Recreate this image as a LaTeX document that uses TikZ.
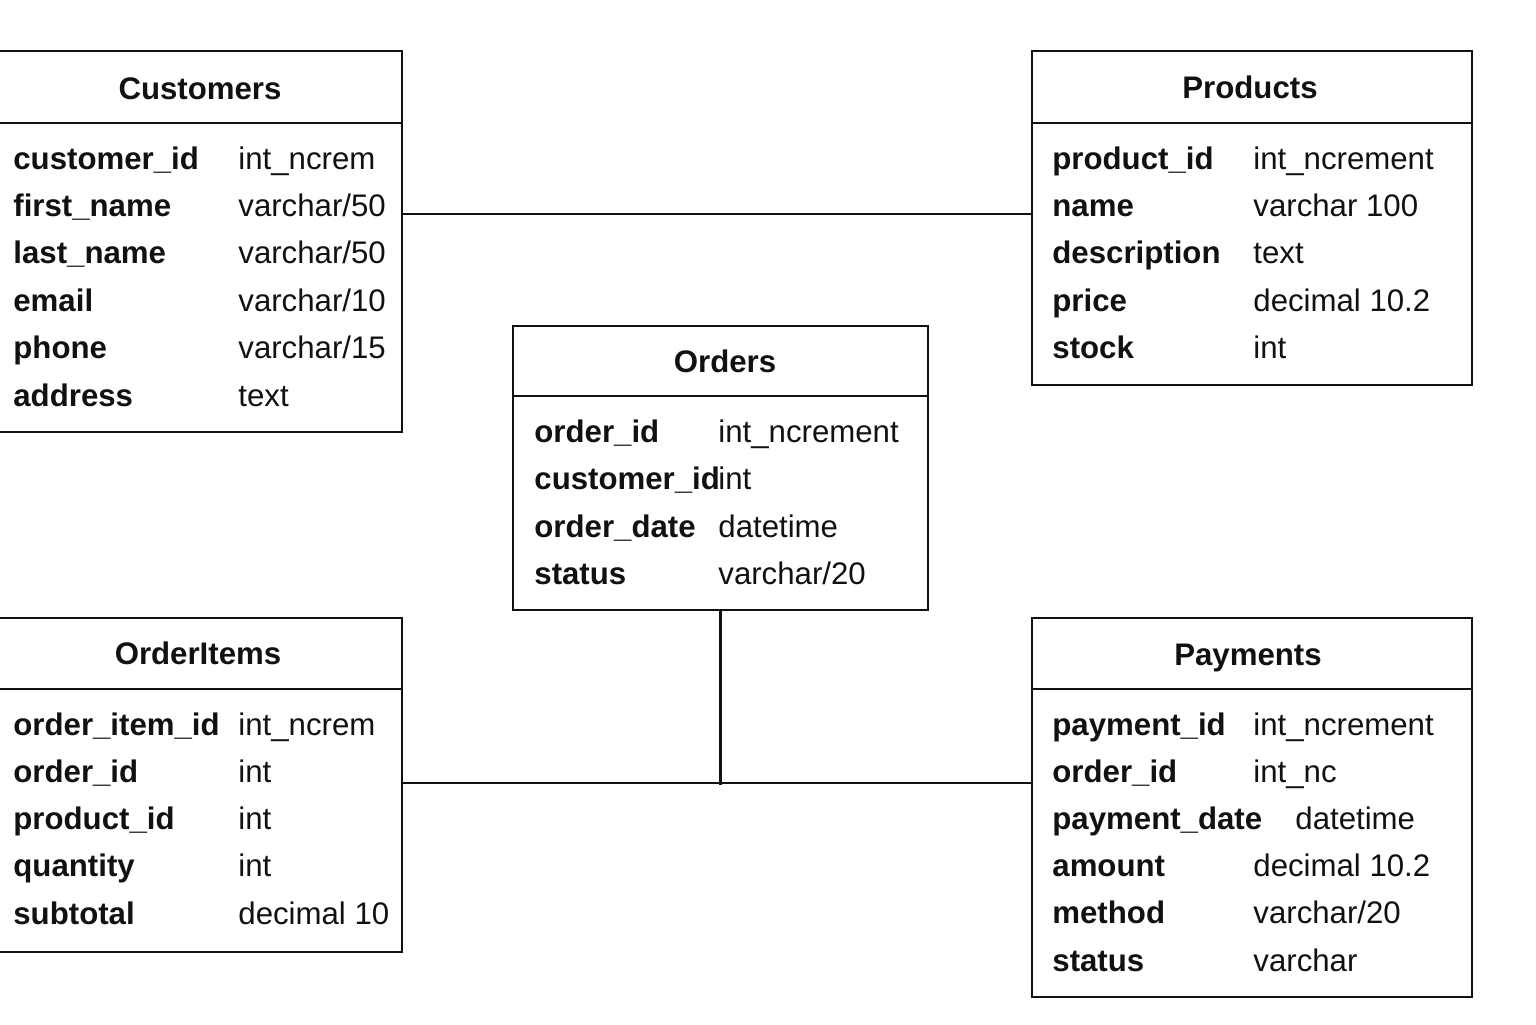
\documentclass[tikz,border=0pt]{standalone}
\usepackage{fontspec}
\setmainfont{Liberation Sans}
\usetikzlibrary{fit}
\definecolor{ink}{HTML}{111111}
\tikzset{
  tablebox/.style={draw=ink, line width=1.2pt, inner sep=0pt, fit={#1}},
  rule/.style={draw=ink, line width=1.2pt},
  link/.style={draw=ink, line width=1.1pt},
  title/.style={font=\fontsize{15.6}{18}\selectfont\bfseries, text=ink, anchor=base, inner sep=0pt},
  field/.style={font=\fontsize{15.6}{18}\selectfont\bfseries, text=ink, anchor=base west, inner sep=0pt},
  ftype/.style={font=\fontsize{15.6}{18}\selectfont, text=ink, anchor=base west, inner sep=0pt},
}
\begin{document}
\begin{tikzpicture}[x=0.5pt,y=-0.5pt]
\useasboundingbox (0,0) rectangle (1536,1024);
\fill[white] (0,0) rectangle (1536,1024);

% ---- Customers ----
\node[tablebox={(-6,51) (402,432)}] (cust) {};
\draw[rule] (cust.west |- 0,123) -- (cust.east |- 0,123);
\node[title] (cust-h) at (200,99) {Customers};
\foreach \n/\t [count=\i] in {customer\_id/int\_ncrem, first\_name/{varchar/50}, last\_name/{varchar/50}, email/{varchar/10}, phone/{varchar/15}, address/text}{
  \node[field] (cust-n\i) at (13,{158+47.4*(\i-1)+11}) {\n};
  \node[ftype] (cust-t\i) at (238,{158+47.4*(\i-1)+11}) {\t};
}

% ---- Products ----
\node[tablebox={(1032,51) (1472,385)}] (prod) {};
\draw[rule] (prod.west |- 0,123) -- (prod.east |- 0,123);
\node[title] (prod-h) at (1250,98) {Products};
\foreach \n/\t [count=\i] in {product\_id/int\_ncrement, name/varchar 100, description/text, price/decimal 10.2, stock/int}{
  \node[field] (prod-n\i) at (1052,{158+47.4*(\i-1)+11}) {\n};
  \node[ftype] (prod-t\i) at (1253,{158+47.4*(\i-1)+11}) {\t};
}

% ---- Orders ----
\node[tablebox={(513,326) (928,610)}] (ord) {};
\draw[rule] (ord.west |- 0,396) -- (ord.east |- 0,396);
\node[title] (ord-h) at (725,372) {Orders};
\foreach \n/\t [count=\i] in {order\_id/int\_ncrement, customer\_id/int, order\_date/datetime, status/{varchar/20}}{
  \node[field] (ord-n\i) at (534,{431+47.6*(\i-1)+11}) {\n};
  \node[ftype] (ord-t\i) at (718,{431+47.6*(\i-1)+11}) {\t};
}

% ---- OrderItems ----
\node[tablebox={(-6,618) (402,952)}] (items) {};
\draw[rule] (items.west |- 0,689) -- (items.east |- 0,689);
\node[title] (items-h) at (198,664) {OrderItems};
\foreach \n/\t [count=\i] in {order\_item\_id/int\_ncrem, order\_id/int, product\_id/int, quantity/int, subtotal/decimal 10}{
  \node[field] (items-n\i) at (13,{724+47.3*(\i-1)+11}) {\n};
  \node[ftype] (items-t\i) at (238,{724+47.3*(\i-1)+11}) {\t};
}

% ---- Payments ----
\node[tablebox={(1032,618) (1472,997)}] (pay) {};
\draw[rule] (pay.west |- 0,689) -- (pay.east |- 0,689);
\node[title] (pay-h) at (1248,665) {Payments};
\foreach \n/\t/\tx [count=\i] in {payment\_id/int\_ncrement/1253, order\_id/int\_nc/1253, payment\_date/datetime/1295, amount/decimal 10.2/1253, method/{varchar/20}/1253, status/varchar/1253}{
  \node[field] (pay-n\i) at (1052,{724+47.2*(\i-1)+11}) {\n};
  \node[ftype] (pay-t\i) at (\tx,{724+47.2*(\i-1)+11}) {\t};
}

% ---- relationships ----
\draw[link] (cust.east |- 0,214) -- (prod.west |- 0,214);
\draw[link] (items.east |- 0,783) -- (pay.west |- 0,783);
\draw[link] (ord.south) -- (ord.south |- items.east);
\end{tikzpicture}
\end{document}
